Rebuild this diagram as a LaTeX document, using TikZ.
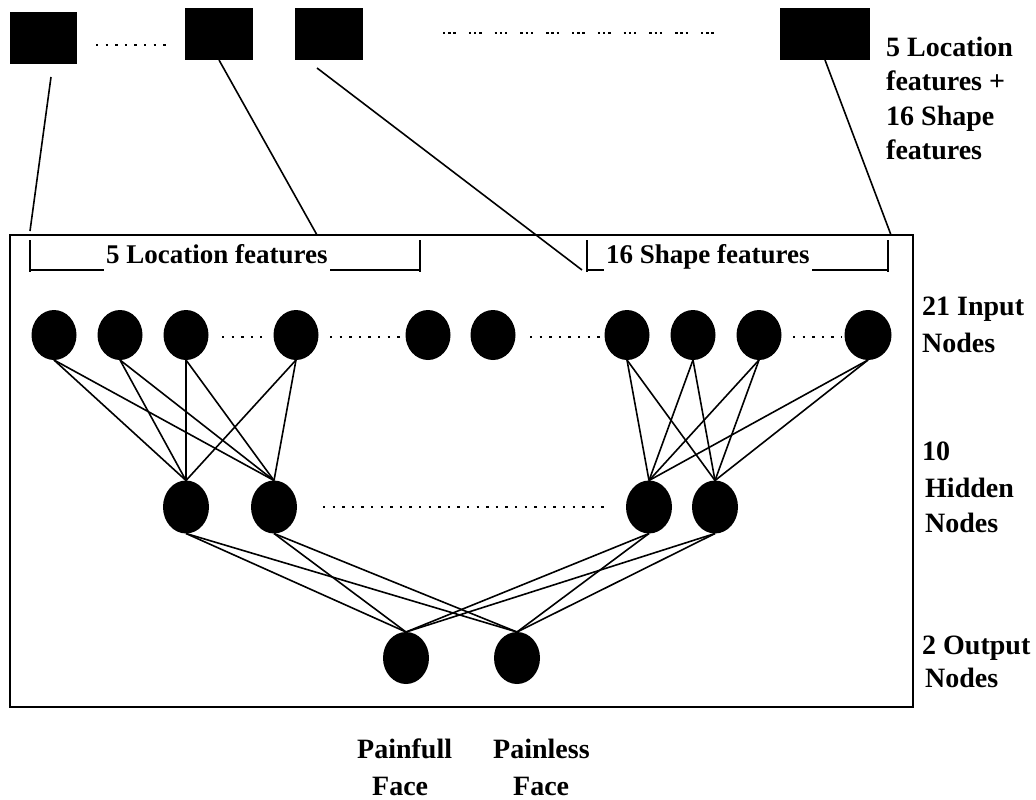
\documentclass[tikz,border=0pt]{standalone}
\usepackage{fontspec}
\setmainfont{Liberation Serif}
\usetikzlibrary{shapes.geometric}

\begin{document}
\begin{tikzpicture}[x=1pt,y=-1pt,
  unit/.style={ellipse, fill=black, draw=none, inner sep=0pt, outer sep=0pt,
               minimum width=45pt, minimum height=50pt},
  hid/.style={unit, minimum width=46pt, minimum height=53pt},
  feat/.style={rectangle, fill=black, draw=none, inner sep=0pt, outer sep=0pt},
  wire/.style={line width=1.6pt},
  thinline/.style={line width=1.1pt},
  dotrow/.style={line width=2.4pt, dash pattern=on 2.4pt off 7.2pt},
  dotgroups/.style={line width=2.4pt, dash pattern=on 2.4pt off 2.8pt on 2.4pt off 2.8pt on 2.4pt off 13pt},
  lbl/.style={font=\bfseries\fontsize{28}{33}\selectfont, inner sep=0pt, anchor=base west},
  brk/.style={font=\bfseries\fontsize{27}{32}\selectfont, inner sep=0pt, anchor=base west},
]
\useasboundingbox (0,0) rectangle (1036,800);

% feature vectors at the top
\node[feat, minimum width=67pt, minimum height=52pt] (s1) at (43.5,38) {};
\node[feat, minimum width=68pt, minimum height=52pt] (s2) at (219,34) {};
\node[feat, minimum width=68pt, minimum height=52pt] (s3) at (329,34) {};
\node[feat, minimum width=90pt, minimum height=52pt] (s4) at (825,34) {};
\draw[dotrow] (96,45) -- (170,45);
\draw[dotgroups] (443,33) -- (726,33);

\node[lbl] (featA) at (886,57) {5 Location};
\node[lbl] (featB) at (886,91) {features +};
\node[lbl] (featC) at (886,125) {16 Shape};
\node[lbl] (featD) at (886,159) {features};

% network frame
\node[draw, thinline, minimum width=903pt, minimum height=472pt, inner sep=0pt] (frame) at (461.5,471) {};

% feature group brackets
\node[brk] (locg) at (106,263) {5 Location features};
\draw[thinline] (30,240) -- (30,272) (30,270) -- (104,270) (330,270) -- (420,270) (420,240) -- (420,272);
\node[brk] (shpg) at (606,263) {16 Shape features};
\draw[thinline] (587,240) -- (587,272) (587,270) -- (604,270) (812,270) -- (888,270) (888,240) -- (888,272);

% connectors from the feature vectors to the inputs
\coordinate (c1a) at (51,77);
\coordinate (c1b) at (30,231);
\coordinate (c2b) at (317,235);
\coordinate (c3a) at (317,68);
\coordinate (c3b) at (582,270);
\coordinate (c4b) at (891,235);
\draw[wire] (c1a) -- (c1b);
\draw[wire] (s2.south) -- (c2b);
\draw[wire] (c3a) -- (c3b);
\draw[wire] (s4.south) -- (c4b);

% input layer
\node[unit] (i1) at (54,335) {};
\node[unit] (i2) at (120,335) {};
\node[unit] (i3) at (186,335) {};
\node[unit] (i4) at (296,335) {};
\node[unit] (i5) at (428,335) {};
\node[unit] (i6) at (493,335) {};
\node[unit] (i7) at (627,335) {};
\node[unit] (i8) at (693,335) {};
\node[unit] (i9) at (759,335) {};
\node[unit, minimum width=47pt] (i10) at (868,335) {};
\draw[dotrow] (222,337) -- (262,337);
\draw[dotrow] (330,337) -- (400,337);
\draw[dotrow] (530,337) -- (600,337);
\draw[dotrow] (793,337) -- (842,337);

% hidden layer
\node[hid] (h1) at (186,507) {};
\node[hid] (h2) at (274,507) {};
\node[hid] (h3) at (649,507) {};
\node[hid] (h4) at (715,507) {};
\draw[dotrow] (323,507) -- (606,507);

% output layer
\node[hid, minimum height=52pt] (o1) at (406,658) {};
\node[hid, minimum height=52pt] (o2) at (517,658) {};

% weights
\foreach \a in {i1,i2,i3,i4}
  \foreach \b in {h1,h2}
    \draw[wire] (\a.south) -- (\b.north);
\foreach \a in {i7,i8,i9,i10}
  \foreach \b in {h3,h4}
    \draw[wire] (\a.south) -- (\b.north);
\foreach \a in {h1,h2,h3,h4}
  \foreach \b in {o1,o2}
    \draw[wire] (\a.south) -- (\b.north);

% layer captions
\node[lbl] (inA) at (922,315) {21 Input};
\node[lbl] (inB) at (922,352) {Nodes};
\node[lbl] (hdA) at (922,460) {10};
\node[lbl] (hdB) at (925,497) {Hidden};
\node[lbl] (hdC) at (925,532) {Nodes};
\node[lbl] (otA) at (922,654) {2 Output};
\node[lbl] (otB) at (925,687) {Nodes};

% class captions
\node[lbl] (pfA) at (357,758) {Painfull};
\node[lbl] (pfB) at (372,795) {Face};
\node[lbl] (plA) at (493,758) {Painless};
\node[lbl] (plB) at (513,795) {Face};
\end{tikzpicture}
\end{document}
